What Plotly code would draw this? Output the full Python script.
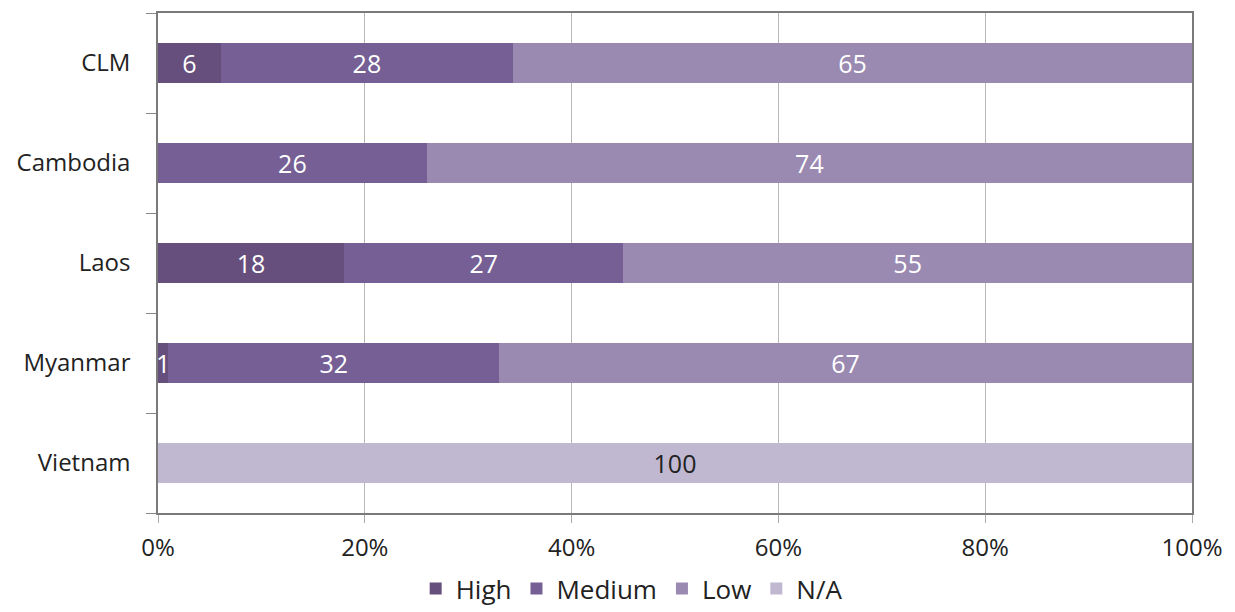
import plotly.graph_objects as go

categories = ["CLM", "Cambodia", "Laos", "Myanmar", "Vietnam"]
series_names = ["High", "Medium", "Low", "N/A"]
high = [6, 0, 18, 1, 0]
medium = [28, 26, 27, 32, 0]
low = [65, 74, 55, 67, 0]
na = [0, 0, 0, 0, 100]
x_ticks = [0, 20, 40, 60, 80, 100]
x_tick_labels = ["0%", "20%", "40%", "60%", "80%", "100%"]

colors = ["#664f7c", "#765f95", "#9a8ab2", "#c0b7d1"]
text_colors = ["white", "white", "white", "#222222"]
font = "Open Sans, Noto Sans, sans-serif"

fig = go.Figure()
for name, vals, col, tcol in zip(series_names, [high, medium, low, na], colors, text_colors):
    fig.add_trace(go.Bar(
        y=categories, x=vals, name=name, orientation="h",
        marker=dict(color=col, line=dict(width=0)),
        text=[str(v) if v else "" for v in vals],
        textposition="inside", insidetextanchor="middle",
        constraintext="none", cliponaxis=True,
        textfont=dict(color=tcol, size=25, family=font),
        hoverinfo="skip",
    ))

fig.update_layout(
    width=1235, height=612,
    barmode="stack", barnorm="percent", bargap=0.6,
    plot_bgcolor="white", paper_bgcolor="white",
    margin=dict(l=150, r=51, t=5, b=107, autoexpand=False),
    font=dict(family=font, size=24, color="#222222"),
    showlegend=True,
    legend=dict(orientation="h", xref="container", yref="container",
                x=0.505, xanchor="center", y=0.013, yanchor="bottom",
                font=dict(size=26, color="#222222"), traceorder="normal",
                itemwidth=30),
    xaxis=dict(range=[0, 100], tickmode="array", tickvals=x_ticks, ticktext=x_tick_labels,
               showgrid=True, gridcolor="#b8b8b8", gridwidth=1,
               showline=True, linecolor="#7a7a7a", linewidth=1.5, mirror=True,
               ticks="outside", ticklen=8, tickcolor="#aaaaaa",
               ticklabelstandoff=4,
               zeroline=False, tickfont=dict(size=24, color="#222222")),
    yaxis=dict(categoryorder="array", categoryarray=categories[::-1],
               showline=True, linecolor="#7a7a7a", linewidth=1.5, mirror=True,
               ticks="outside", tickson="boundaries", ticklen=10, tickcolor="#888888",
               ticklabelstandoff=21,
               showgrid=False, tickfont=dict(size=24, color="#222222")),
)

fig.write_html("out.html")
